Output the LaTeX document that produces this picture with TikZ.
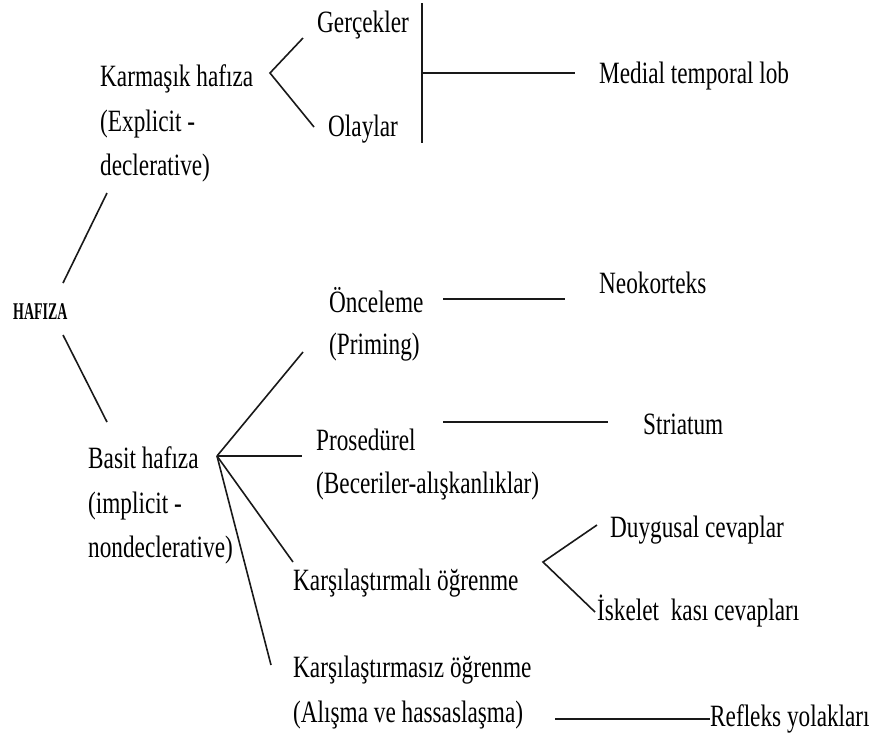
\documentclass[tikz,border=0pt]{standalone}
\usepackage{fontspec}
\setmainfont{Liberation Serif}[FakeStretch=0.75]
\newfontfamily\hafont{Liberation Serif}[FakeStretch=0.58]
\begin{document}
\begin{tikzpicture}[x=1pt,y=-1pt,
  lbl/.style={anchor=base west, inner sep=0pt, text=black, font=\fontsize{31}{31}\selectfont},
  hlbl/.style={anchor=base west, inner sep=0pt, text=black, font=\hafont\bfseries\fontsize{24}{24}\selectfont},
  ln/.style={line width=1.6pt, draw=black!90}]
\useasboundingbox[fill=white] (0,0) rectangle (870,740);

% ---- texts ----
\node[hlbl] (hafiza) at (13,319) {HAFIZA};

\node[lbl] (karm1) at (100,86) {Karmaşık hafıza};
\node[lbl] (karm2) at (100,131) {(Explicit -};
\node[lbl] (karm3) at (100,175) {declerative)};

\node[lbl] (gerc) at (317,32) {Gerçekler};
\node[lbl] (olay) at (328,136) {Olaylar};
\node[lbl] (medial) at (599,83) {Medial temporal lob};

\node[lbl] (basit1) at (88,468) {Basit hafıza};
\node[lbl] (basit2) at (88,513) {(implicit -};
\node[lbl] (basit3) at (88,557) {nondeclerative)};

\node[lbl] (once1) at (329,312) {Önceleme};
\node[lbl] (once2) at (329,354) {(Priming)};
\node[lbl] (neo) at (599,293) {Neokorteks};

\node[lbl] (pros1) at (316,450) {Prosedürel};
\node[lbl] (pros2) at (316,493) {(Beceriler-alışkanlıklar)};
\node[lbl] (stri) at (643,434) {Striatum};

\node[lbl] (kli) at (293,590) {Karşılaştırmalı öğrenme};
\node[lbl] (duyg) at (610,537) {Duygusal cevaplar};
\node[lbl] (iske) at (597,620) {İskelet\ \ kası cevapları};

\node[lbl] (ksiz1) at (293,677) {Karşılaştırmasız öğrenme};
\node[lbl] (ksiz2) at (293,722) {(Alışma ve hassaslaşma)};
\node[lbl] (refl) at (710,726) {Refleks yolakları};

% ---- connector points ----
\coordinate (hTop) at (63,283);
\coordinate (hBot) at (63,335);
\coordinate (kIn) at (107,193);
\coordinate (bIn) at (107,422);

\coordinate (kV) at (270,73);
\coordinate (gEnd) at (303,38);
\coordinate (oEnd) at (314,127);
\coordinate (vTop) at (422,3);
\coordinate (vMid) at (422,73);
\coordinate (vBot) at (422,143);
\coordinate (mEnd) at (575,73);

\coordinate (bV) at (217,456);
\coordinate (oncEnd) at (303,352);
\coordinate (prEnd) at (302,456);
\coordinate (kliEnd) at (293,562);
\coordinate (ksizEnd) at (271,665);

\coordinate (neoA) at (443,299);
\coordinate (neoB) at (565,299);
\coordinate (strA) at (443,422);
\coordinate (strB) at (608,422);

\coordinate (dV) at (543,562);
\coordinate (dEnd) at (597,525);
\coordinate (iEnd) at (595,612);

\coordinate (refA) at (555,719);
\coordinate (refB) at (710,719);

% ---- connectors ----
\draw[ln] (kIn) -- (hTop);
\draw[ln] (hBot) -- (bIn);

\draw[ln] (gEnd) -- (kV) -- (oEnd);
\draw[ln] (vTop) -- (vBot);
\draw[ln] (vMid) -- (mEnd);

\draw[ln] (bV) -- (oncEnd);
\draw[ln] (bV) -- (prEnd);
\draw[ln] (bV) -- (kliEnd);
\draw[ln] (bV) -- (ksizEnd);

\draw[ln] (neoA) -- (neoB);
\draw[ln] (strA) -- (strB);

\draw[ln] (dEnd) -- (dV) -- (iEnd);
\draw[ln] (refA) -- (refB);
\end{tikzpicture}
\end{document}
